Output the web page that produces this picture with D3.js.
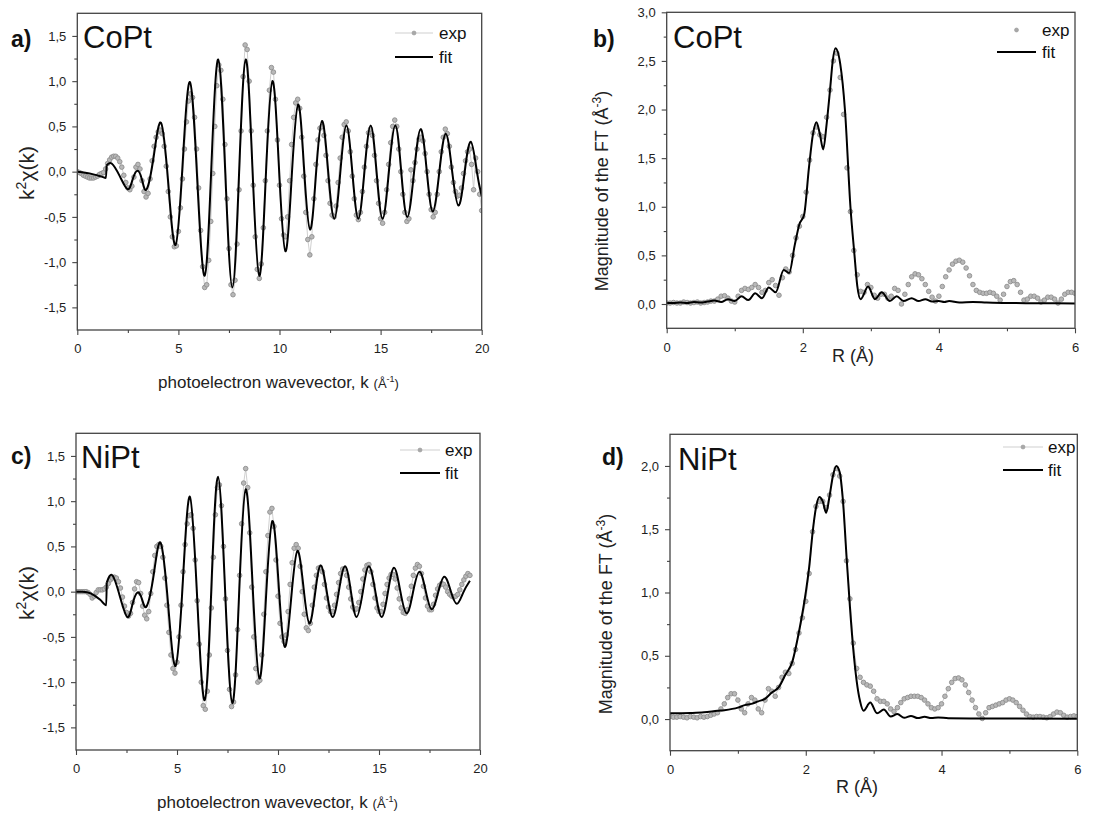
<!DOCTYPE html>
<html><head><meta charset="utf-8">
<script src="https://cdn.jsdelivr.net/npm/d3@7"></script>
<style>body{margin:0;background:#fff}svg{display:block}text{font-family:"Liberation Sans",Arial,sans-serif}</style>
</head><body><svg id="chart" width="1115" height="816"></svg>
<script>
// ---------- DATA ----------
const kStep = 0.1, rStep = 0.05;
const kTicks = [0,5,10,15,20], kMinor = [2.5,7.5,12.5,17.5];
const rTicks = [0,2,4,6], rMinor = [1,3,5];
const chiTicks = [-1.5,-1,-0.5,0,0.5,1,1.5], chiMinor = [-1.25,-0.75,-0.25,0.25,0.75,1.25];
const ftTicksB = [0,0.5,1,1.5,2,2.5,3], ftMinorB = [0.25,0.75,1.25,1.75,2.25,2.75];
const ftTicksD = [0,0.5,1,1.5,2], ftMinorD = [0.25,0.75,1.25,1.75];

// a) CoPt k-space, exp on k grid 0..20 step 0.1
const expA = [
 0.00,-0.01,-0.02,-0.04,-0.05,-0.06,-0.07,-0.07,-0.07,-0.06,
 -0.05,-0.03,-0.02,-0.01,0.03,0.09,0.13,0.16,0.17,0.17,
 0.15,0.11,0.05,-0.04,-0.12,-0.18,-0.20,-0.16,-0.06,0.05,
 0.08,0.03,-0.10,-0.22,-0.28,-0.24,-0.08,0.12,0.28,0.38,
 0.44,0.46,0.42,0.28,0.06,-0.22,-0.50,-0.72,-0.83,-0.82,
 -0.66,-0.40,-0.08,0.25,0.55,0.78,0.86,0.82,0.60,0.25,
 -0.18,-0.65,-1.05,-1.28,-1.25,-0.98,-0.55,-0.02,0.50,0.95,
 1.18,1.12,0.80,0.30,-0.30,-0.85,-1.25,-1.36,-1.20,-0.80,
 -0.20,0.45,1.05,1.40,1.35,1.00,0.45,-0.15,-0.72,-1.08,
 -1.18,-1.02,-0.62,-0.10,0.45,0.90,1.15,1.10,0.80,0.35,
 -0.15,-0.52,-0.70,-0.72,-0.50,-0.10,0.30,0.60,0.76,0.80,
 0.70,0.38,-0.05,-0.45,-0.75,-0.92,-0.72,-0.30,0.08,0.35,
 0.48,0.50,0.40,0.18,-0.10,-0.35,-0.48,-0.50,-0.38,-0.12,
 0.15,0.38,0.52,0.55,0.45,0.22,-0.05,-0.30,-0.48,-0.53,
 -0.45,-0.22,0.05,0.28,0.43,0.47,0.40,0.18,-0.10,-0.35,
 -0.52,-0.57,-0.45,-0.20,0.08,0.32,0.50,0.57,0.50,0.25,
 0.00,-0.25,-0.45,-0.55,-0.52,0.02,-0.10,0.10,0.25,0.36,
 0.38,0.34,0.20,0.00,-0.25,-0.42,-0.50,-0.45,-0.25,0.00,
 0.22,0.38,0.47,0.42,0.28,0.05,-0.12,-0.22,-0.27,-0.26,
 -0.18,-0.02,0.12,0.22,0.25,0.08,-0.20,0.15,0.00,-0.25,
 -0.43];
const fitApre = [[0,0],[0.4,-0.012],[0.8,-0.03],[1.2,-0.055],[1.42,-0.07],[1.45,0.07]];
const fitA = [[1.45,0.07],[1.7,0.09],[2.1,-0.05],[2.49,-0.195],[2.73,-0.09],[2.97,0.01],[3.2,-0.09],[3.43,-0.195],
 [3.78,0.17],[4.14,0.54],[4.5,-0.13],[4.86,-0.81],[5.21,0.09],[5.57,0.99],[5.93,-0.08],[6.3,-1.15],[6.63,0.05],
 [6.97,1.24],[7.32,-0.02],[7.67,-1.28],[8.0,-0.02],[8.33,1.24],[8.66,0.05],[9.0,-1.15],[9.32,-0.07],[9.65,1.0],
 [9.97,0.06],[10.29,-0.88],[10.6,-0.07],[10.92,0.74],[11.21,0.05],[11.51,-0.64],[11.8,-0.04],[12.1,0.56],
 [12.4,0.02],[12.71,-0.52],[13.01,0],[13.31,0.51],[13.6,0],[13.9,-0.52],[14.2,0],[14.51,0.51],[14.8,0],
 [15.1,-0.52],[15.41,0],[15.73,0.51],[16.02,0],[16.32,-0.5],[16.65,-0.015],[16.98,0.47],[17.28,0.015],
 [17.58,-0.44],[17.9,-0.01],[18.22,0.42],[18.53,0.02],[18.85,-0.375],[19.15,-0.02],[19.46,0.33],[19.76,0.0],[20,-0.27]];

// b) CoPt R-space, exp on R grid 0..6 step 0.05
const expB = [
 0.01,0.01,0.015,0.01,0.01,0.02,0.015,0.01,0.015,0.02,
 0.01,0.015,0.02,0.03,0.03,0.05,0.08,0.085,0.06,0.03,
 0.02,0.08,0.14,0.16,0.15,0.17,0.20,0.17,0.12,0.14,
 0.22,0.25,0.19,0.09,0.27,0.36,0.33,0.50,0.68,0.80,
 0.90,1.15,1.48,1.76,1.82,1.74,1.72,1.92,2.20,2.50,
 2.58,2.33,1.95,1.40,0.95,0.55,0.30,0.13,0.12,0.20,
 0.17,0.09,0.06,0.10,0.10,0.06,0.08,0.16,0.14,0.00,
 0.10,0.20,0.28,0.31,0.30,0.26,0.20,0.13,0.07,0.03,
 0.08,0.18,0.28,0.35,0.41,0.44,0.45,0.43,0.37,0.29,
 0.20,0.14,0.12,0.11,0.11,0.12,0.11,0.08,0.04,0.10,
 0.18,0.23,0.24,0.20,0.12,0.04,0.05,0.08,0.08,0.06,
 0.02,0.04,0.07,0.07,0.05,0.01,0.05,0.10,0.12,0.12,
 0.11];
const fitB = [[0,0.01],[0.1,0.01],[0.2,0.015],[0.3,0.01],[0.4,0.02],[0.5,0.015],[0.6,0.025],[0.7,0.035],[0.8,0.02],
 [0.9,0.05],[1.0,0.03],[1.1,0.08],[1.2,0.04],[1.3,0.11],[1.4,0.06],[1.5,0.17],[1.6,0.12],[1.72,0.35],[1.8,0.32],
 [1.88,0.6],[1.95,0.82],[2.02,0.92],[2.09,1.4],[2.15,1.75],[2.2,1.87],[2.25,1.75],[2.3,1.59],[2.35,1.85],[2.4,2.2],
 [2.44,2.5],[2.48,2.63],[2.55,2.47],[2.62,1.99],[2.7,1.0],[2.76,0.5],[2.8,0.19],[2.85,0.05],[2.96,0.18],[3.06,0.05],
 [3.16,0.12],[3.28,0.03],[3.38,0.08],[3.48,0.03],[3.6,0.06],[3.7,0.03],[3.8,0.05],[3.9,0.025],[4.0,0.03],[4.08,0.02],
 [4.15,0.03],[4.3,0.015],[4.5,0.02],[4.7,0.015],[5.0,0.01],[5.5,0.008],[6.0,0.005]];

// c) NiPt k-space, exp on k grid 0..19.5 step 0.1
const expC = [
 0.00,0.00,0.00,0.00,0.00,0.00,-0.01,-0.03,-0.07,-0.05,
 -0.01,0.02,0.02,0.02,0.03,0.05,0.09,0.13,0.15,0.16,
 0.15,0.11,0.04,-0.06,-0.16,-0.23,-0.27,-0.24,-0.12,0.03,
 0.11,0.10,-0.02,-0.16,-0.26,-0.30,-0.22,-0.02,0.22,0.40,
 0.50,0.52,0.50,0.38,0.15,-0.15,-0.45,-0.70,-0.85,-0.90,
 -0.78,-0.50,-0.15,0.22,0.52,0.75,0.84,0.85,0.70,0.35,
 -0.10,-0.58,-1.00,-1.26,-1.30,-1.10,-0.70,-0.18,0.38,0.85,
 1.15,1.18,0.95,0.50,-0.08,-0.65,-1.08,-1.27,-1.22,-0.92,
 -0.42,0.18,0.75,1.20,1.36,1.15,0.65,0.05,-0.50,-0.85,
 -1.00,-0.98,-0.70,-0.25,0.22,0.62,0.88,0.92,0.72,0.35,
 -0.05,-0.35,-0.50,-0.55,-0.48,-0.22,0.08,0.32,0.48,0.52,
 0.48,0.28,0.00,-0.25,-0.40,-0.43,-0.35,-0.15,0.05,0.18,
 0.26,0.27,0.22,0.08,-0.07,-0.17,-0.22,-0.22,-0.15,-0.03,
 0.10,0.20,0.25,0.25,0.18,0.05,-0.08,-0.17,-0.20,-0.19,
 -0.12,0.00,0.14,0.24,0.29,0.30,0.22,0.08,-0.07,-0.18,
 -0.22,-0.22,-0.14,-0.02,0.08,0.15,0.19,0.19,0.14,0.04,
 -0.08,-0.18,-0.23,-0.24,-0.20,-0.08,0.06,0.18,0.26,0.30,
 0.28,0.20,0.06,-0.07,-0.16,-0.20,-0.20,-0.14,-0.04,0.03,
 0.07,0.09,0.08,0.05,0.00,-0.03,-0.05,-0.06,-0.05,-0.03,
 0.02,0.08,0.13,0.17,0.20,0.18];
const fitCpre = [[0,0],[0.3,0],[0.6,-0.01],[0.9,-0.04],[1.2,-0.09],[1.5,-0.15],[1.52,0.10]];
const fitC = [[1.52,0.10],[1.8,0.18],[2.17,-0.05],[2.54,-0.28],[2.79,-0.145],[3.04,-0.01],[3.27,-0.085],[3.5,-0.16],
 [3.85,0.19],[4.19,0.54],[4.56,-0.14],[4.93,-0.82],[5.29,0.115],[5.64,1.05],[6.0,-0.075],[6.37,-1.2],[6.7,0.035],
 [7.03,1.27],[7.38,0.02],[7.74,-1.23],[8.07,-0.05],[8.4,1.13],[8.74,0.085],[9.08,-0.96],[9.4,-0.09],[9.72,0.78],
 [10.03,0.085],[10.33,-0.61],[10.65,-0.08],[10.96,0.45],[11.26,0.05],[11.55,-0.35],[11.83,-0.03],[12.11,0.29],
 [12.41,0.005],[12.71,-0.28],[13.01,0],[13.32,0.28],[13.61,0],[13.89,-0.28],[14.2,0],[14.5,0.28],[14.82,0],
 [15.13,-0.28],[15.44,-0.008],[15.74,0.265],[16.05,0.01],[16.37,-0.24],[16.68,-0.01],[17.0,0.22],[17.31,0.01],
 [17.61,-0.195],[17.92,-0.015],[18.23,0.165],[18.54,0.015],[18.85,-0.135],[19.17,-0.01],[19.5,0.12]];

// d) NiPt R-space, exp on R grid 0..6 step 0.05
const expD = [
 0.02,0.015,0.015,0.02,0.015,0.01,0.02,0.015,0.01,0.02,
 0.015,0.02,0.03,0.04,0.05,0.08,0.12,0.17,0.20,0.20,
 0.15,0.08,0.05,0.12,0.17,0.15,0.08,0.05,0.15,0.24,
 0.22,0.18,0.25,0.33,0.37,0.36,0.44,0.55,0.68,0.80,
 0.93,1.15,1.48,1.68,1.72,1.72,1.67,1.77,1.93,1.98,
 1.92,1.72,1.25,0.95,0.60,0.40,0.33,0.29,0.27,0.26,
 0.22,0.16,0.14,0.14,0.12,0.08,0.06,0.09,0.13,0.16,
 0.17,0.18,0.18,0.18,0.17,0.15,0.12,0.09,0.08,0.09,
 0.12,0.18,0.24,0.29,0.32,0.325,0.31,0.27,0.21,0.15,
 0.09,0.04,0.005,0.05,0.09,0.10,0.11,0.12,0.13,0.15,
 0.16,0.15,0.13,0.10,0.07,0.04,0.02,0.015,0.02,0.02,
 0.015,0.01,0.02,0.04,0.055,0.05,0.03,0.015,0.02,0.025,
 0.02];
const fitD = [[0,0.045],[0.3,0.048],[0.5,0.053],[0.7,0.065],[0.8,0.07],[1.0,0.09],[1.1,0.11],[1.2,0.12],[1.3,0.14],
 [1.4,0.16],[1.5,0.21],[1.6,0.25],[1.7,0.35],[1.8,0.45],[1.9,0.69],[2.0,1.0],[2.05,1.2],[2.1,1.47],[2.15,1.67],
 [2.2,1.755],[2.25,1.72],[2.3,1.63],[2.35,1.76],[2.4,1.92],[2.45,2.0],[2.5,1.95],[2.55,1.71],[2.6,1.29],[2.65,0.89],
 [2.7,0.55],[2.75,0.3],[2.8,0.14],[2.85,0.066],[2.95,0.13],[3.05,0.045],[3.15,0.075],[3.25,0.02],[3.35,0.04],
 [3.45,0.01],[3.55,0.025],[3.65,0.008],[3.75,0.018],[3.85,0.008],[3.95,0.013],[4.1,0.006],[4.5,0.005],[5.0,0.004],[6.0,0.002]];

// ---------- DRAWING ----------
const svg = d3.select("#chart");
const comma = d => d3.format(".1f")(d).replace(".", ",").replace("\u2212", "-");
const intF = d => d3.format("d")(d);

const panels = [
 {id:"a", box:[77.3,481.7,13.3,330], xd:[0,20], yd:[-1.75,1.75], exp:expA, step:kStep, pre:fitApre, fit:fitA,
  curve:d3.curveNatural, xt:kTicks, xm:kMinor, yt:chiTicks, ym:chiMinor, xf:intF, expLine:true,
  letter:["a)",11,47], name:["CoPt",83,48], leg:{x1:395,x2:433,tx:439,y1:33,y2:57,line:true},
  xtitle:["k",278.5,388], ytitle:["chi",28,173]},
 {id:"b", box:[666.7,1075,12.3,328.3], xd:[0,6], yd:[-0.25,3.0], exp:expB, step:rStep, pre:null, fit:fitB,
  curve:d3.curveMonotoneX, xt:rTicks, xm:rMinor, yt:ftTicksB, ym:ftMinorB, xf:intF, expLine:false,
  letter:["b)",593,47], name:["CoPt",673,48], leg:{x1:997,x2:1036,tx:1042,y1:30,y2:52,line:false},
  xtitle:["R",853,362], ytitle:["ft",602,191]},
 {id:"c", box:[76,480,433.3,750], xd:[0,20], yd:[-1.75,1.75], exp:expC, step:kStep, pre:fitCpre, fit:fitC,
  curve:d3.curveNatural, xt:kTicks, xm:kMinor, yt:chiTicks, ym:chiMinor, xf:intF, expLine:true,
  letter:["c)",11,464], name:["NiPt",81,468], leg:{x1:400,x2:440,tx:445,y1:450,y2:473,line:true},
  xtitle:["k",277.5,808], ytitle:["chi",28,593]},
 {id:"d", box:[670,1077.3,434.3,750.7], xd:[0,6], yd:[-0.25,2.25], exp:expD, step:rStep, pre:null, fit:fitD,
  curve:d3.curveMonotoneX, xt:rTicks, xm:rMinor, yt:ftTicksD, ym:ftMinorD, xf:intF, expLine:true,
  letter:["d)",602,465], name:["NiPt",678,470], leg:{x1:1003,x2:1043,tx:1048,y1:447,y2:470,line:true},
  xtitle:["R",857,793], ytitle:["ft",606,614]}
];

const defs = svg.append("defs");
panels.forEach(p => {
  const [L,R,T,B] = p.box;
  const x = d3.scaleLinear().domain(p.xd).range([L,R]);
  const y = d3.scaleLinear().domain(p.yd).range([B,T]);
  const g = svg.append("g");
  defs.append("clipPath").attr("id","clip-"+p.id).append("rect")
    .attr("x",L).attr("y",T).attr("width",R-L).attr("height",B-T);
  const dg = g.append("g").attr("clip-path",`url(#clip-${p.id})`);
  const pts = p.exp.map((v,i) => [i*p.step, v]);
  if (p.expLine) {
    dg.append("path").datum(pts).attr("fill","none").attr("stroke","#c9c9c9").attr("stroke-width",0.9)
      .attr("d", d3.line().x(d=>x(d[0])).y(d=>y(d[1])));
  }
  dg.selectAll("circle.e").data(pts).join("circle").attr("class","e")
    .attr("cx",d=>x(d[0])).attr("cy",d=>y(d[1])).attr("r",2.3)
    .attr("fill","#b8b8b8").attr("stroke","#8e8e8e").attr("stroke-width",0.9);
  if (p.pre) {
    dg.append("path").datum(p.pre).attr("fill","none").attr("stroke","#000").attr("stroke-width",2)
      .attr("stroke-linejoin","round")
      .attr("d", d3.line().curve(d3.curveMonotoneX).x(d=>x(d[0])).y(d=>y(d[1])));
  }
  dg.append("path").datum(p.fit).attr("fill","none").attr("stroke","#000").attr("stroke-width",2)
    .attr("stroke-linejoin","round")
    .attr("d", d3.line().curve(p.curve).x(d=>x(d[0])).y(d=>y(d[1])));

  // axes
  const styleAxis = sel => {
    sel.select(".domain").remove();
    sel.selectAll(".tick line").attr("stroke","#444").attr("stroke-width",1.1);
    sel.selectAll(".tick text").attr("fill","#1e1e1e").style("font-size","13px")
      .style("font-family",'"Liberation Sans",Arial,sans-serif');
  };
  g.append("g").attr("transform",`translate(0,${B})`)
    .call(d3.axisBottom(x).tickValues(p.xt).tickFormat(p.xf).tickSize(5).tickPadding(9)).call(styleAxis);
  g.append("g").attr("transform",`translate(0,${B})`)
    .call(d3.axisBottom(x).tickValues(p.xm).tickFormat("").tickSize(3)).call(styleAxis);
  g.append("g").attr("transform",`translate(${L},0)`)
    .call(d3.axisLeft(y).tickValues(p.yt).tickFormat(comma).tickSize(5).tickPadding(6)).call(styleAxis);
  g.append("g").attr("transform",`translate(${L},0)`)
    .call(d3.axisLeft(y).tickValues(p.ym).tickFormat("").tickSize(3)).call(styleAxis);
  g.append("rect").attr("x",L).attr("y",T).attr("width",R-L).attr("height",B-T)
    .attr("fill","none").attr("stroke","#444").attr("stroke-width",1.3);

  // panel letter & name
  g.append("text").attr("x",p.letter[1]).attr("y",p.letter[2]).text(p.letter[0])
    .style("font-size","23px").style("font-weight","bold").attr("fill","#111");
  g.append("text").attr("x",p.name[1]).attr("y",p.name[2]).text(p.name[0])
    .style("font-size","31px").attr("fill","#111");

  // legend
  const lg = p.leg;
  if (lg.line) g.append("line").attr("x1",lg.x1).attr("x2",lg.x2).attr("y1",lg.y1).attr("y2",lg.y1)
    .attr("stroke","#cfcfcf").attr("stroke-width",1);
  g.append("circle").attr("cx",(lg.x1+lg.x2)/2).attr("cy",lg.y1).attr("r",2)
    .attr("fill","#a8a8a8").attr("stroke","#999").attr("stroke-width",0.6);
  g.append("line").attr("x1",lg.x1).attr("x2",lg.x2).attr("y1",lg.y2).attr("y2",lg.y2)
    .attr("stroke","#000").attr("stroke-width",2);
  g.append("text").attr("x",lg.tx).attr("y",lg.y1).attr("dy","0.35em").text("exp").style("font-size","17px").attr("fill","#111");
  g.append("text").attr("x",lg.tx).attr("y",lg.y2).attr("dy","0.35em").text("fit").style("font-size","17px").attr("fill","#111");

  // x title
  const xt = g.append("text").attr("x",p.xtitle[1]).attr("y",p.xtitle[2]).attr("text-anchor","middle").attr("fill","#222");
  if (p.xtitle[0]==="k") {
    xt.append("tspan").text("photoelectron wavevector, k ").style("font-size","17px");
    xt.append("tspan").text("(Å").style("font-size","13px");
    xt.append("tspan").text("-1").style("font-size","9px").attr("dy",-6);
    xt.append("tspan").text(")").style("font-size","13px").attr("dy",6);
  } else {
    xt.append("tspan").text("R (Å)").style("font-size","18px");
  }
  // y title
  const yt = g.append("text").attr("transform",`translate(${p.ytitle[1]},${p.ytitle[2]}) rotate(-90)`)
    .attr("text-anchor","middle").attr("dy","0.35em").attr("fill","#222");
  if (p.ytitle[0]==="chi") {
    yt.append("tspan").text("k").style("font-size","21px");
    yt.append("tspan").text("2").style("font-size","14px").attr("dy",-8);
    yt.append("tspan").text("χ(k)").style("font-size","21px").attr("dy",8);
  } else {
    yt.append("tspan").text("Magnitude of the FT (Å").style("font-size","18px");
    yt.append("tspan").text("-3").style("font-size","12px").attr("dy",-7);
    yt.append("tspan").text(")").style("font-size","18px").attr("dy",7);
  }
});
</script></body></html>
